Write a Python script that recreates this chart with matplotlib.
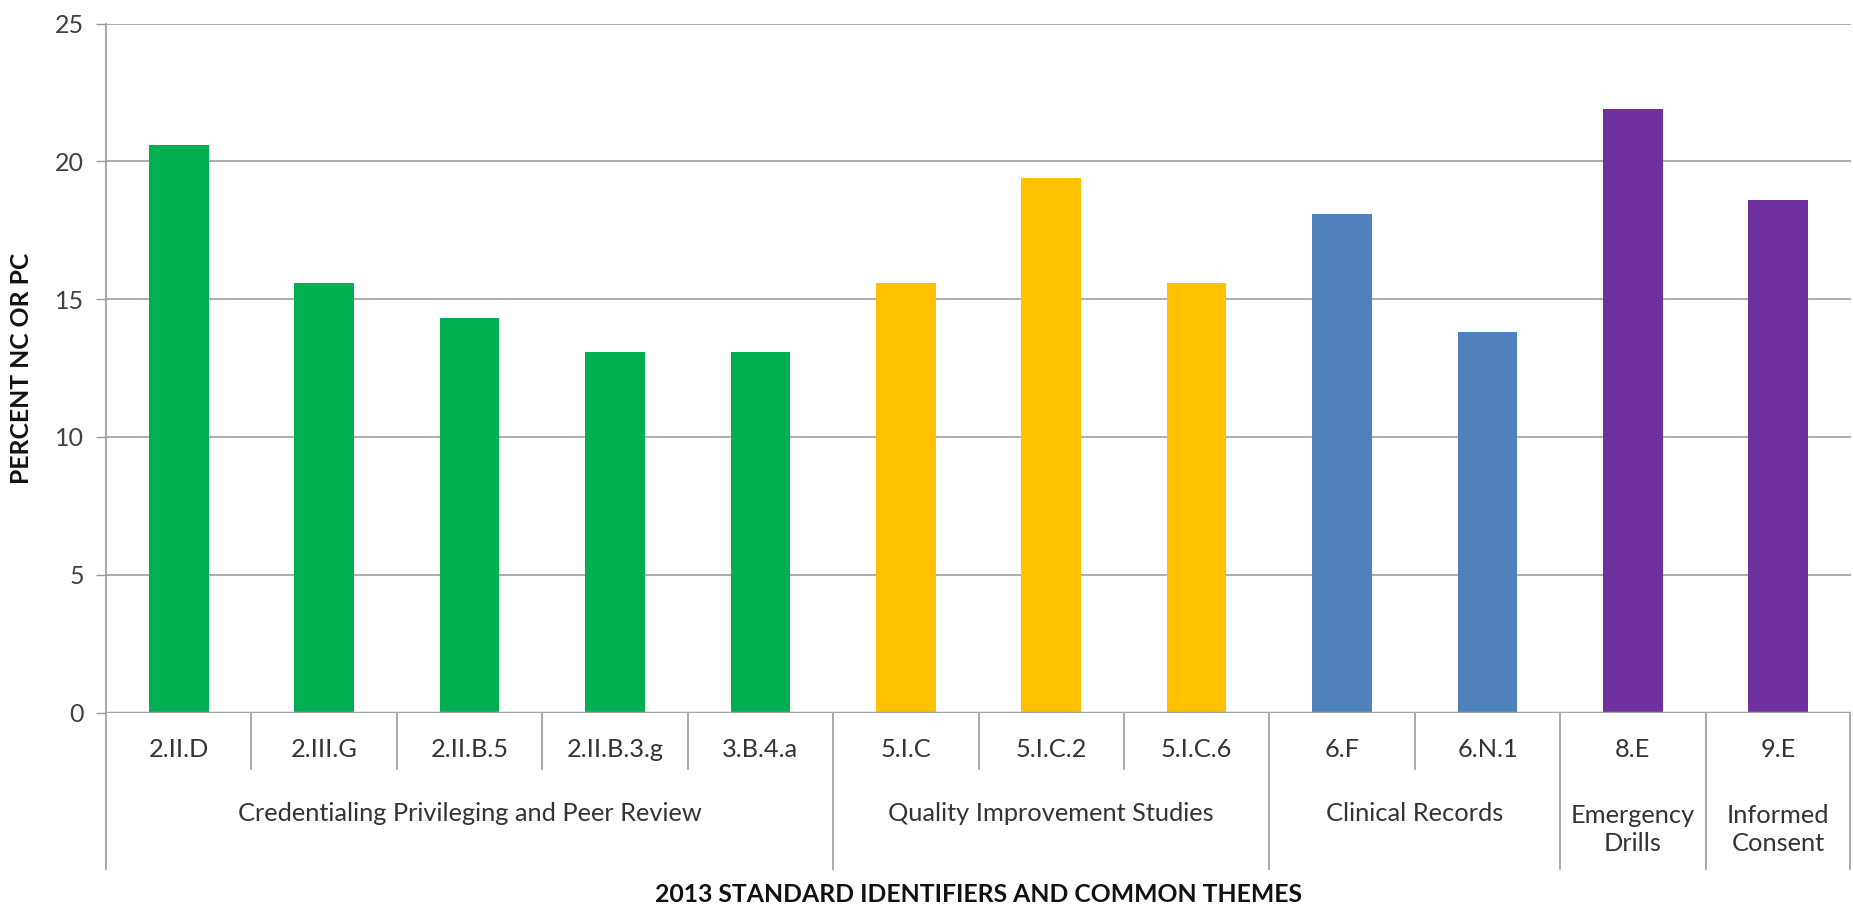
import matplotlib
matplotlib.use("Agg")
import matplotlib.pyplot as plt
import matplotlib.transforms as mtransforms

plt.rcParams['font.family'] = ['Lato', 'DejaVu Sans']

# ---- data ----
standards = ["2.II.D", "2.III.G", "2.II.B.5", "2.II.B.3.g", "3.B.4.a",
             "5.I.C", "5.I.C.2", "5.I.C.6", "6.F", "6.N.1", "8.E", "9.E"]
percent = [20.6, 15.6, 14.3, 13.1, 13.1, 15.6, 19.4, 15.6, 18.1, 13.8, 21.9, 18.6]
themes = ["Credentialing Privileging and Peer Review", "Quality Improvement Studies",
          "Clinical Records", "Emergency\nDrills", "Informed\nConsent"]
theme_sizes = [5, 3, 2, 1, 1]
theme_colors = ["#00B050", "#FFC000", "#4F81BD", "#7030A0", "#7030A0"]
y_ticks = [0, 5, 10, 15, 20, 25]
y_label = "PERCENT NC OR PC"
x_label = "2013 STANDARD IDENTIFIERS AND COMMON THEMES"

W, H = 1853, 908
fig = plt.figure(figsize=(W / 100, H / 100), dpi=100)
ax_left, ax_right, ax_top, ax_bottom = 106, 1851, 23.6, 712.6
ax = fig.add_axes([ax_left / W, 1 - ax_bottom / H, (ax_right - ax_left) / W, (ax_bottom - ax_top) / H])

colors = []
for c, n in zip(theme_colors, theme_sizes):
    colors += [c] * n
x = list(range(len(standards)))
ax.bar(x, percent, width=0.41, color=colors, zorder=3)

ax.set_xlim(-0.5, len(standards) - 0.5)
ax.set_ylim(0, 25)
ax.set_yticks(y_ticks)
ax.set_yticklabels([str(v) for v in y_ticks], fontsize=18, color="#404040")
ax.tick_params(axis='y', length=7, width=1, color="#999999", pad=9)
ax.set_xticks([])
ax.grid(axis='y', color="#A6A6A6", linewidth=1.3, zorder=0)
for s in ["top", "right", "bottom"]:
    ax.spines[s].set_visible(False)
ax.spines["left"].set_color("#999999")
ax.spines["left"].set_linewidth(1.2)
ax.axhline(0, color="#A6A6A6", linewidth=2.5, zorder=4)

axh_px = ax_bottom - ax_top
def yb(px):
    return -px / axh_px

trans = mtransforms.blended_transform_factory(ax.transData, ax.transAxes)
txtc = "#333333"
fs = 18.3

for i, s in enumerate(standards):
    ax.text(i, yb(37), s, transform=trans, ha='center', va='center', fontsize=fs,
            color=txtc, clip_on=False)

# group boundaries
bounds = [-0.5]
for n in theme_sizes:
    bounds.append(bounds[-1] + n)
centers = [(bounds[i] + bounds[i + 1]) / 2 for i in range(len(theme_sizes))]
for b in bounds:
    bb = min(b, len(standards) - 0.5 - 0.005)
    ax.plot([bb, bb], [0, yb(156)], transform=trans, color="#999999", linewidth=1.2, clip_on=False)
# sub-category separators
for i in range(len(standards) - 1):
    b = i + 0.5
    if b not in bounds:
        ax.plot([b, b], [0, yb(56)], transform=trans, color="#999999", linewidth=1.2, clip_on=False)

for c, t in zip(centers, themes):
    if "\n" in t:
        ax.text(c, yb(117), t, transform=trans, ha='center', va='center', fontsize=fs,
                color=txtc, clip_on=False, linespacing=1.3)
    else:
        ax.text(c, yb(101), t, transform=trans, ha='center', va='center', fontsize=fs,
                color=txtc, clip_on=False)

fig.text((ax_left + ax_right) / 2 / W, 1 - 895 / H, x_label, ha='center', va='center',
         fontsize=17.8, fontweight='bold', color="#111111")
fig.text(22 / W, 1 - 368 / H, y_label, ha='center', va='center', rotation=90,
         fontsize=17.8, fontweight='bold', color="#111111")

fig.savefig("out.png", dpi=100, facecolor="white")
